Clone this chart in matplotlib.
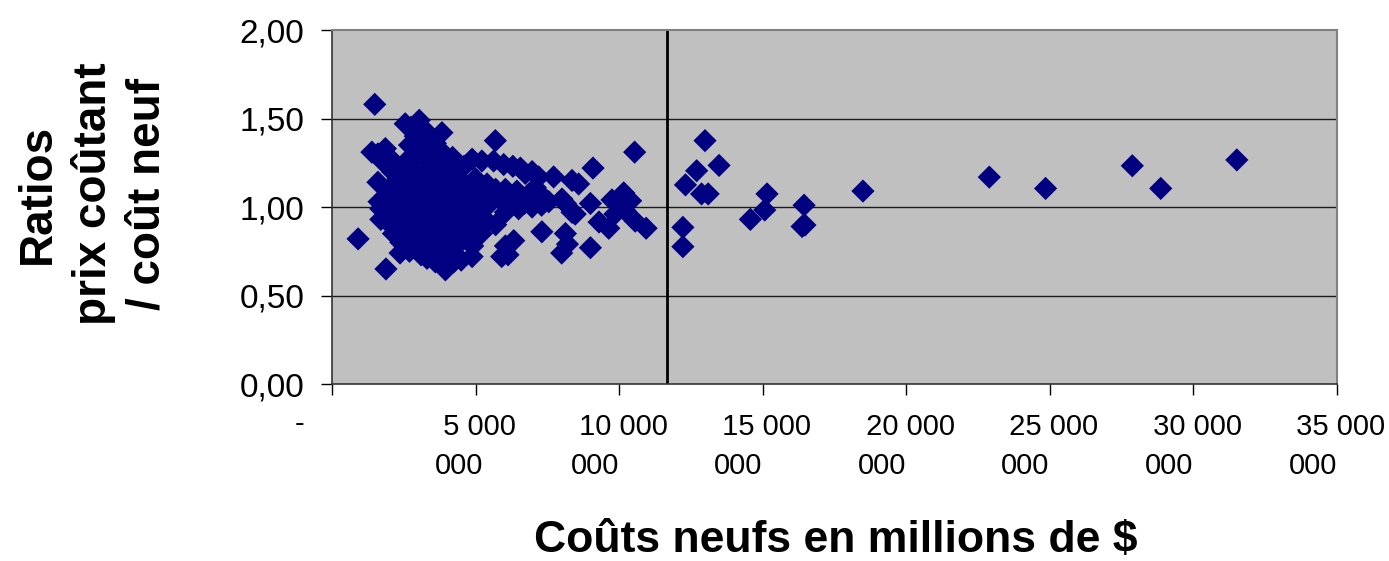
import matplotlib.pyplot as plt
from matplotlib.transforms import ScaledTranslation

# couts neufs (millions de $) et ratios prix coutant / cout neuf
core_x = [
    1.49, 2.55, 2.75, 3.04, 3.20, 3.83, 2.90, 3.40, 3.60,
    2.70, 3.00, 3.30, 3.90, 4.20, 1.39, 1.60, 1.86, 2.00, 1.75,
    2.60, 2.90, 3.50, 4.00, 4.40,
    2.10, 2.40, 2.80, 3.20, 3.70, 4.20,
    1.60, 2.30, 2.60, 3.00, 3.40, 3.90, 4.50, 5.00, 5.40,
    2.00, 2.50, 2.80, 3.30, 3.60, 4.10, 4.40, 4.80, 5.30,
    1.64, 1.90, 2.30, 2.70, 3.10, 3.50, 3.90, 4.30, 4.70, 5.10, 5.50,
    1.70, 2.10, 2.50, 2.90, 3.30, 3.70, 4.10, 4.50, 4.90, 5.30,
    1.70, 2.00, 2.40, 2.80, 3.20, 3.60, 4.00, 4.40, 5.15, 5.40,
    2.10, 2.50, 2.90, 3.30, 3.70, 4.10, 4.60, 5.00, 5.70,
    2.14, 2.60, 3.00, 3.40, 3.80, 4.20, 4.70, 5.20,
    2.40, 2.80, 3.20, 3.60, 4.00, 4.40, 4.90,
    2.37, 2.70, 3.10, 3.50, 3.90, 4.30, 4.88,
    3.31, 3.60, 4.00, 4.24, 4.50,
    3.95, 1.88, 0.91,
]
core_y = [
    1.58, 1.47, 1.45, 1.49, 1.44, 1.42, 1.40, 1.39, 1.36,
    1.35, 1.34, 1.33, 1.30, 1.28, 1.31, 1.30, 1.33, 1.28, 1.26,
    1.26, 1.27, 1.25, 1.24, 1.22,
    1.20, 1.22, 1.21, 1.19, 1.20, 1.18,
    1.14, 1.16, 1.14, 1.15, 1.13, 1.14, 1.15, 1.16, 1.13,
    1.10, 1.09, 1.11, 1.08, 1.10, 1.09, 1.11, 1.08, 1.10,
    1.03, 1.05, 1.04, 1.06, 1.03, 1.05, 1.04, 1.02, 1.05, 1.04, 1.02,
    0.99, 0.98, 1.00, 0.99, 0.98, 1.00, 0.98, 0.99, 0.97, 0.99,
    0.93, 0.94, 0.95, 0.94, 0.93, 0.95, 0.94, 0.93, 0.97, 0.92,
    0.89, 0.90, 0.88, 0.90, 0.89, 0.88, 0.90, 0.88, 0.90,
    0.85, 0.84, 0.85, 0.83, 0.85, 0.84, 0.83, 0.85,
    0.80, 0.79, 0.80, 0.78, 0.80, 0.79, 0.78,
    0.74, 0.75, 0.73, 0.75, 0.74, 0.73, 0.72,
    0.71, 0.69, 0.70, 0.69, 0.70,
    0.645, 0.65, 0.82,
]

# branches vers la droite (5 a 11 M)
branch_x = [
    4.60, 4.88, 5.22, 5.63, 5.98, 6.30, 6.56, 6.97, 7.20, 5.69, 6.73,
    5.70, 6.04, 6.44, 6.97, 7.43, 8.01, 5.80, 6.20, 6.70, 7.08, 7.55, 8.13,
    6.04, 6.50, 6.97, 7.30, 8.47,
    6.33, 6.04, 5.91, 6.13,
    10.54, 9.09, 7.72, 8.59, 8.36, 9.00, 10.16, 10.40, 9.75, 10.00, 9.85, 10.20,
    10.56, 10.94, 9.64, 9.30, 9.00, 8.13, 8.00, 8.20, 7.31, 8.36,
]
branch_y = [
    1.23, 1.27, 1.26, 1.26, 1.24, 1.23, 1.22, 1.20, 1.17, 1.375, 1.19,
    1.10, 1.10, 1.09, 1.06, 1.045, 1.045, 1.05, 1.06, 1.02, 1.11, 1.03, 1.02,
    0.97, 0.99, 1.00, 1.01, 0.96,
    0.81, 0.78, 0.72, 0.73,
    1.31, 1.22, 1.17, 1.13, 1.15, 1.02, 1.08, 1.035, 1.04, 1.02, 0.96, 0.98,
    0.92, 0.88, 0.88, 0.915, 0.77, 0.85, 0.74, 0.79, 0.86, 0.97,
]

# grands projets (au-dela de 12 M)
big_x = [12.99, 13.48, 12.70, 12.31, 12.87, 13.10, 15.15, 15.07, 14.57, 16.44,
         16.47, 16.37, 12.22, 12.22, 18.49, 22.89, 24.85, 27.87, 28.86, 31.51]
big_y = [1.375, 1.235, 1.205, 1.125, 1.074, 1.074, 1.074, 0.983, 0.93, 1.01,
         0.898, 0.89, 0.885, 0.776, 1.09, 1.169, 1.105, 1.233, 1.105, 1.266]

seuil = 11.67
x_ticks = [0, 5, 10, 15, 20, 25, 30, 35]
x_labels = ["-", " 5 000\n000", " 10 000\n000", " 15 000\n000", " 20 000\n000",
            " 25 000\n000", " 30 000\n000", " 35 000\n000"]
y_ticks = [0, 0.5, 1.0, 1.5, 2.0]
y_labels = ["0,00", "0,50", "1,00", "1,50", "2,00"]

plt.rcParams["font.family"] = ["Liberation Sans", "DejaVu Sans"]

fig = plt.figure(figsize=(13.89, 5.61), dpi=100)
ax = fig.add_axes([0.239, 0.3155, 0.7236, 0.631])
ax.set_facecolor("#c0c0c0")

ax.set_xlim(0, 35)
ax.set_ylim(0, 2)

for yv in [0.5, 1.0, 1.5]:
    ax.axhline(yv, color="#1a1a1a", lw=1.0, zorder=1)
ax.axvline(seuil, color="black", lw=2.0, zorder=2)

all_x = core_x + branch_x + big_x
all_y = core_y + branch_y + big_y
ax.scatter(all_x, all_y, marker="D", s=140, color="#000080", edgecolors="none", zorder=3)

ax.set_xticks(x_ticks)
ax.set_xticklabels(x_labels, fontsize=21, linespacing=1.5)
ax.set_yticks(y_ticks)
ax.set_yticklabels(y_labels, fontsize=24)
ax.tick_params(axis="x", direction="out", length=8, width=1, pad=13)
ax.tick_params(axis="y", direction="out", length=8, width=1, pad=12)
for lbl in ax.get_xticklabels():
    lbl.set_multialignment("left")
ax.get_xticklabels()[0].set_transform(
    ax.get_xticklabels()[0].get_transform() + ScaledTranslation(-0.32, 0.03, fig.dpi_scale_trans))

for side in ["top", "right"]:
    ax.spines[side].set_color("#808080")
    ax.spines[side].set_linewidth(1.5)
for side in ["left", "bottom"]:
    ax.spines[side].set_color("#333333")
    ax.spines[side].set_linewidth(1.2)

fig.text(0.067, 0.655, "Ratios\nprix coûtant\n/ coût neuf", rotation=90,
         ha="center", va="center", multialignment="center",
         fontsize=33, fontweight="bold", linespacing=1.3)
fig.text(0.602, 0.037, "Coûts neufs en millions de $", ha="center", va="center",
         fontsize=32, fontweight="bold")

fig.savefig("out.png", dpi=100)
